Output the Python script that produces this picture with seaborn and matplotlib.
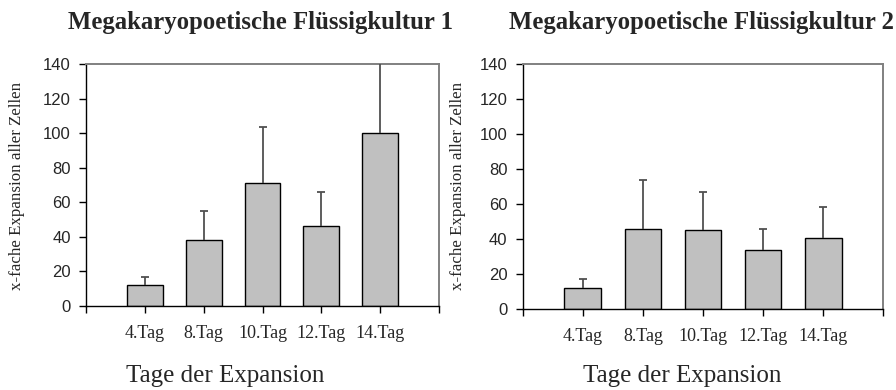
import matplotlib
matplotlib.use("Agg")
import matplotlib.pyplot as plt
import seaborn as sns
import pandas as pd
import numpy as np

# Tage der Kultur
days = ["4.Tag", "8.Tag", "10.Tag", "12.Tag", "14.Tag"]

# Flüssigkultur 1: Mittelwert und Standardabweichung (x-fache Expansion)
culture1_mean = [12, 38, 71, 46.5, 100]
culture1_sd = [5, 17, 32.5, 19.5, 48]

# Flüssigkultur 2
culture2_mean = [12.2, 45.5, 45.2, 33.5, 40.5]
culture2_sd = [5, 28.5, 21.5, 12, 18]

titles = ["Megakaryopoetische Flüssigkultur 1", "Megakaryopoetische Flüssigkultur 2"]
y_label = "x-fache Expansion aller Zellen"
x_label = "Tage der Expansion"
y_ticks = [0, 20, 40, 60, 80, 100, 120, 140]

sns.set_theme(style="white")
plt.rcParams["font.family"] = ["Liberation Sans", "DejaVu Sans"]

fig = plt.figure(figsize=(8.96, 3.90), dpi=100)
axes = [
    fig.add_axes([86 / 896, 1 - 306 / 390, 353 / 896, 242 / 390]),
    fig.add_axes([522.7 / 896, 1 - 309 / 390, 360.6 / 896, 245 / 390]),
]

panels = [(culture1_mean, culture1_sd), (culture2_mean, culture2_sd)]
serif = "Liberation Serif"

for i, (ax, (means, sds)) in enumerate(zip(axes, panels)):
    df = pd.DataFrame({"Tag": days, "Expansion": means})
    sns.barplot(data=df, x="Tag", y="Expansion", ax=ax, color="#c0c0c0",
                saturation=1, width=0.61, edgecolor="black", linewidth=1.0,
                errorbar=None, zorder=2)
    # nur nach oben gerichtete Fehlerbalken
    pos = np.arange(len(days))
    _, caps, _ = ax.errorbar(pos, means, yerr=[np.zeros(len(sds)), sds],
                             fmt="none", ecolor="#505050", elinewidth=1.3,
                             capsize=2.6, capthick=1.3, zorder=3)
    caps[0].set_visible(False)  # keine Kappe an der Balkenoberkante

    ax.set_xlim(-1, len(days))
    ax.set_ylim(0, 140)
    ax.set_yticks(y_ticks)
    ax.set_yticklabels([str(t) for t in y_ticks], fontsize=12,
                       family="Liberation Sans")
    ax.set_xticks(np.arange(-1, len(days) + 1))
    ax.set_xticklabels([""] + days + [""], fontsize=13, family=serif)

    ax.tick_params(axis="both", which="major", direction="out", length=5,
                   width=1.0, color="black", pad=6,
                   bottom=True, left=True, top=False, right=False)
    ax.tick_params(axis="x", pad=9)

    for side in ["left", "bottom"]:
        ax.spines[side].set_color("black")
        ax.spines[side].set_linewidth(1.0)
    for side in ["top", "right"]:
        ax.spines[side].set_color("#808080")
        ax.spines[side].set_linewidth(1.4)

    ax.set_xlabel("")
    ax.set_ylabel("")
    ax.grid(False)

# Achsenbeschriftungen und Titel
fig.text(17.5 / 896, 1 - 186 / 390, y_label, rotation=90, ha="center",
         va="center", fontsize=12.2, family=serif)
fig.text(458 / 896, 1 - 186 / 390, y_label, rotation=90, ha="center",
         va="center", fontsize=12.2, family=serif)
fig.text(225 / 896, 1 - 376 / 390, x_label, ha="center", va="center",
         fontsize=18, family=serif)
fig.text(682 / 896, 1 - 376 / 390, x_label, ha="center", va="center",
         fontsize=18, family=serif)
fig.text(260 / 896, 1 - 22 / 390, titles[0], ha="center", va="center",
         fontsize=17.8, fontweight="bold", family=serif)
fig.text(701 / 896, 1 - 22 / 390, titles[1], ha="center", va="center",
         fontsize=17.8, fontweight="bold", family=serif)

fig.savefig("out.png", dpi=100)
